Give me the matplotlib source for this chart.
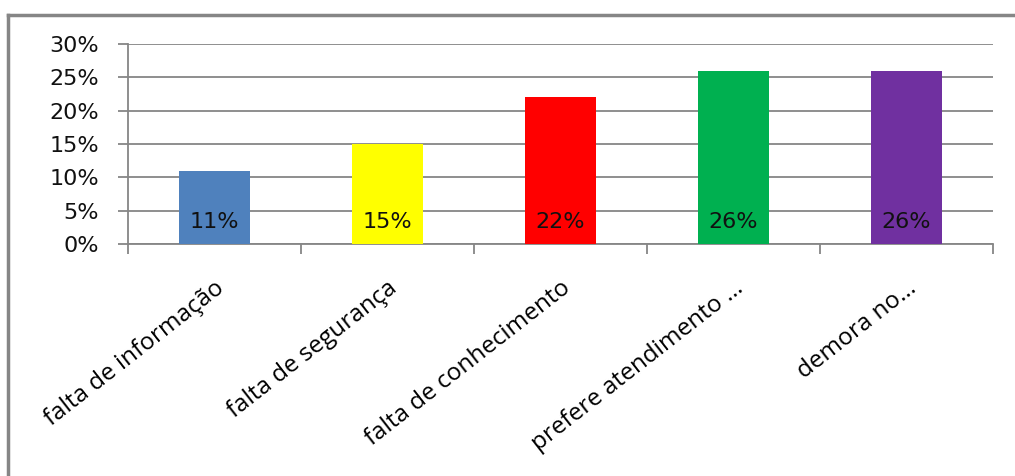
import matplotlib.pyplot as plt
from matplotlib.lines import Line2D

# data
categories = [
    "falta de informação",
    "falta de segurança",
    "falta de conhecimento",
    "prefere atendimento …",
    "demora no…",
]
values = [0.11, 0.15, 0.22, 0.26, 0.26]
labels = ["11%", "15%", "22%", "26%", "26%"]
colors = ["#4F81BD", "#FFFF00", "#FF0000", "#00B050", "#7030A0"]
yticks = [0, 0.05, 0.10, 0.15, 0.20, 0.25, 0.30]
ytick_labels = ["0%", "5%", "10%", "15%", "20%", "25%", "30%"]

W, H = 1015, 476
fig = plt.figure(figsize=(W / 100, H / 100), dpi=100)
ax = fig.add_axes([128 / W, 1 - 244 / H, (993 - 128) / W, (244 - 44) / H])

grid_color = "#868686"
x = list(range(len(categories)))
ax.bar(x, values, width=0.41, color=colors, zorder=3)
ax.set_xlim(-0.5, len(categories) - 0.5)
ax.set_ylim(0, 0.30)

# value labels near the bar base
for xi, lab in zip(x, labels):
    ax.annotate(lab, xy=(xi, 0), xytext=(0, 16), textcoords="offset points",
                ha="center", va="center", fontsize=16, family="DejaVu Sans",
                color="#111111", zorder=4)

# y axis
ax.set_yticks(yticks)
ax.set_yticklabels(ytick_labels, fontsize=16, family="DejaVu Sans", color="#111111")
ax.tick_params(axis="y", length=7, width=1.3, color=grid_color, pad=14)
ax.yaxis.grid(True, color=grid_color, linewidth=1.3, zorder=0)

# x axis: ticks at category boundaries, labels centered on bars
ax.set_xticks([i - 0.5 for i in range(len(categories) + 1)])
ax.set_xticklabels([])
ax.tick_params(axis="x", length=7, width=1.3, color=grid_color)
ax.set_xticks(x, minor=True)
ax.set_xticklabels(categories, minor=True, rotation=38, ha="right", va="top",
                   rotation_mode="anchor", fontsize=17.5, family="Open Sans")
ax.tick_params(axis="x", which="minor", length=0, pad=23)

for side in ["top", "right"]:
    ax.spines[side].set_visible(False)
for side in ["left", "bottom"]:
    ax.spines[side].set_color(grid_color)
    ax.spines[side].set_linewidth(1.3)

# outer chart frame (top and left edges visible)
fig.add_artist(Line2D([8 / W, 1.0], [1 - 15 / H, 1 - 15 / H], color="#868686",
                      linewidth=2.5, transform=fig.transFigure))
fig.add_artist(Line2D([8 / W, 8 / W], [1 - 15 / H, 0], color="#868686",
                      linewidth=2.5, transform=fig.transFigure))

fig.savefig("out.png", dpi=100)
